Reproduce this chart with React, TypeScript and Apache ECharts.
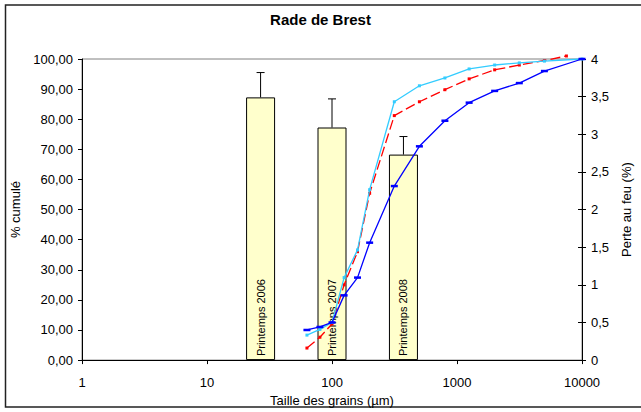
import React, { useEffect, useRef } from "react";
import * as echarts from "echarts";

// Grain size classes (µm)
const sizes = [63, 80, 100, 125, 160, 200, 315, 500, 800, 1250, 2000, 3150, 5000, 10000];
const redSizes = [63, 80, 100, 125, 160, 200, 315, 500, 800, 1250, 2000, 3150, 5000, 7500];
// Cumulative % curves
const blueCum = [10, 11, 12.5, 21.5, 27.4, 39, 57.8, 71, 79.5, 85.5, 89.4, 92, 96, 100];
const cyanCum = [8.3, 10.2, 12.5, 27.4, 36.6, 56.6, 85.8, 91.1, 93.7, 96.7, 98, 98.7, 99.3, 100];
const redCum = [4, 7.6, 12, 25, 36, 55.4, 81.2, 85.8, 89.8, 93.4, 96.4, 98, 99.5, 101];
// Loss on ignition bars (secondary axes)
const barSlots = ["s1", "s2", "Printemps 2006", "Printemps 2007", "Printemps 2008", "s6", "s7"];
const lossValues: (number | null)[] = [null, null, 3.49, 3.09, 2.73, null, null];
const lossErrTop: (number | null)[] = [null, null, 3.82, 3.47, 2.97, null, null];
const xTicks = [1, 10, 100, 1000, 10000];

const FONT = "'Liberation Sans', Arial, sans-serif";

export default function App() {
  const ref = useRef<HTMLDivElement>(null);
  useEffect(() => {
    if (!ref.current) return;
    const chart = echarts.init(ref.current, null, { renderer: "svg" });
    const errData = lossValues
      .map((v, i) => (v == null ? null : [i, v, lossErrTop[i]]))
      .filter((d) => d != null);
    const lineStyleBase = { width: 1.3 };
    chart.setOption({
      animation: false,
      backgroundColor: "#ffffff",
      title: {
        text: "Rade de Brest",
        left: "center",
        top: 7,
        textStyle: { fontFamily: FONT, fontSize: 15, fontWeight: "bold", color: "#000" },
      },
      graphic: [
        {
          type: "rect",
          shape: { x: 5.5, y: 5, width: 700, height: 402 },
          style: { fill: "none", stroke: "#222", lineWidth: 1.5 },
          silent: true,
        },
      ],
      grid: {
        left: 82,
        right: 58,
        top: 59,
        bottom: 50,
        show: true,
        borderColor: "#808080",
        borderWidth: 1,
        backgroundColor: "transparent",
      },
      xAxis: [
        {
          type: "log",
          logBase: 10,
          min: xTicks[0],
          max: xTicks[xTicks.length - 1],
          name: "Taille des grains (µm)",
          nameLocation: "middle",
          nameGap: 27,
          nameTextStyle: { fontFamily: FONT, fontSize: 13, color: "#000" },
          axisLine: { lineStyle: { color: "#000", width: 1 } },
          axisTick: { show: true, length: 4, lineStyle: { color: "#000" } },
          axisLabel: {
            fontFamily: FONT,
            fontSize: 13,
            color: "#000",
            margin: 16,
            formatter: (v: number) => String(Math.round(v)),
          },
          splitLine: { show: false },
          minorTick: { show: false },
        },
        {
          type: "category",
          data: barSlots,
          show: false,
          boundaryGap: true,
        },
      ],
      yAxis: [
        {
          type: "value",
          min: 0,
          max: 100,
          interval: 10,
          position: "left",
          name: "% cumulé",
          nameLocation: "middle",
          nameGap: 57,
          nameRotate: 90,
          nameTextStyle: { fontFamily: FONT, fontSize: 13, color: "#000" },
          axisLine: { show: true, lineStyle: { color: "#000", width: 1 } },
          axisTick: { show: true, length: 4, lineStyle: { color: "#000" } },
          axisLabel: {
            fontFamily: FONT,
            fontSize: 13,
            color: "#000",
            margin: 9,
            formatter: (v: number) => v.toFixed(2).replace(".", ","),
          },
          splitLine: { show: false },
        },
        {
          type: "value",
          min: 0,
          max: 4,
          interval: 0.5,
          position: "right",
          name: "Perte au feu (%)",
          nameLocation: "middle",
          nameGap: 34,
          nameRotate: 90,
          nameTextStyle: { fontFamily: FONT, fontSize: 13, color: "#000" },
          axisLine: { show: true, lineStyle: { color: "#000", width: 1 } },
          axisTick: { show: true, length: 4, lineStyle: { color: "#000" } },
          axisLabel: {
            fontFamily: FONT,
            fontSize: 13,
            color: "#000",
            margin: 9,
            formatter: (v: number) => String(v).replace(".", ","),
          },
          splitLine: { show: false },
        },
        {
          type: "value",
          min: 0,
          max: 4,
          interval: 0.5,
          position: "right",
          axisLine: { show: false },
          axisTick: { show: true, inside: true, length: 4, lineStyle: { color: "#000" } },
          axisLabel: { show: false },
          splitLine: { show: false },
        },
      ],
      series: [
        {
          type: "bar",
          xAxisIndex: 1,
          yAxisIndex: 1,
          data: lossValues.map((v) => (v == null ? "-" : v)),
          barWidth: 29,
          itemStyle: { color: "#FFFFCC", borderColor: "#000", borderWidth: 1 },
          label: {
            show: true,
            position: "insideBottom",
            rotate: 90,
            align: "left",
            verticalAlign: "middle",
            distance: 4,
            formatter: (p: any) => p.name,
            fontFamily: FONT,
            fontSize: 11,
            color: "#000",
          },
          z: 1,
        },
        {
          type: "custom",
          xAxisIndex: 1,
          yAxisIndex: 1,
          data: errData,
          encode: { x: 0, y: [1, 2] },
          z: 2,
          renderItem: (params: any, api: any) => {
            const c = api.value(0);
            const top = api.coord([c, api.value(1)]);
            const hi = api.coord([c, api.value(2)]);
            return {
              type: "group",
              children: [
                {
                  type: "line",
                  shape: { x1: top[0], y1: top[1], x2: hi[0], y2: hi[1] },
                  style: { stroke: "#000", lineWidth: 1 },
                },
                {
                  type: "line",
                  shape: { x1: hi[0] - 4, y1: hi[1], x2: hi[0] + 4, y2: hi[1] },
                  style: { stroke: "#000", lineWidth: 1 },
                },
              ],
            };
          },
        },
        {
          type: "line",
          name: "blue",
          xAxisIndex: 0,
          yAxisIndex: 0,
          data: sizes.map((s, i) => [s, blueCum[i]]),
          clip: false,
          symbol: "rect",
          symbolSize: [7, 2.5],
          lineStyle: { ...lineStyleBase, color: "#0000FF" },
          itemStyle: { color: "#0000FF" },
          z: 5,
        },
        {
          type: "line",
          name: "cyan",
          xAxisIndex: 0,
          yAxisIndex: 0,
          data: sizes.map((s, i) => [s, cyanCum[i]]),
          clip: false,
          symbol: "rect",
          symbolSize: 3,
          lineStyle: { ...lineStyleBase, color: "#33CCFF" },
          itemStyle: { color: "#33CCFF" },
          z: 4,
        },
        {
          type: "line",
          name: "red",
          xAxisIndex: 0,
          yAxisIndex: 0,
          data: redSizes.map((s, i) => [s, redCum[i]]),
          clip: false,
          symbol: "rect",
          symbolSize: 3,
          lineStyle: { ...lineStyleBase, color: "#FF0000", type: [10, 4] },
          itemStyle: { color: "#FF0000" },
          z: 3,
        },
      ],
    });
    return () => chart.dispose();
  }, []);
  return (
    <div
      ref={ref}
      style={{ position: "absolute", left: 0, top: 0, width: 641, height: 412, background: "#fff" }}
    />
  );
}
